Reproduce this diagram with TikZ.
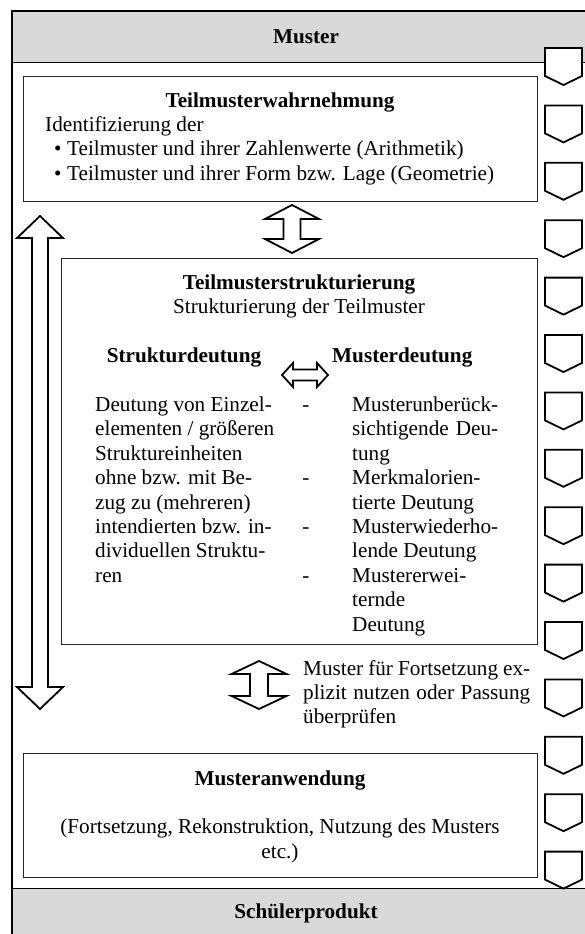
\documentclass[tikz,border=0pt]{standalone}
\usepackage{fontspec}
\setmainfont{Liberation Serif}

\begin{document}
\begin{tikzpicture}[x=1pt, y=-1pt]
  \tikzset{
    txt/.style={inner sep=0pt, font=\fontsize{21.2}{24.4}\selectfont},
    head/.style={txt, font=\fontsize{21.2}{24.4}\selectfont\bfseries},
    box/.style={
      rectangle,
      draw=black!85,
      line width=1pt, % thin frame of the three phases
      fill=white,
      inner sep=0pt,
    },
    band/.style={rectangle, draw=black, line width=0.8pt, fill=black!15, inner sep=0pt, font=\fontsize{21.2}{24.4}\selectfont\bfseries},
    blockarrow/.style={draw=black, line width=1.8pt, fill=white, line join=miter},
    chevron/.style={draw=black, line width=1.8pt, fill=white},
  }
  \useasboundingbox (0,0) rectangle (585,934);
  \clip (0,0) rectangle (585,934);

  % grey bands
  \node[band, minimum width=588pt, minimum height=51pt] (muster) at (306,36.5) {Muster};
  \node[band, minimum width=588pt, minimum height=50pt] (produkt) at (306,913) {Schülerprodukt};
  \draw[line width=2pt] (12,960) -- (12,11) -- (600,11);

  % phases
  \node[box, minimum width=514pt, minimum height=125pt] (wahr) at (280,138.5) {};
  \node[box, minimum width=476pt, minimum height=386pt] (struk) at (299,451) {};
  \node[box, minimum width=514pt, minimum height=124pt] (anw) at (280,815) {};

  \node[head, anchor=base] (wahrtitel) at (280,107) {Teilmusterwahrnehmung};
  \node[txt, anchor=base west] (ident) at (45,131.4) {Identifizierung der};
  \node[txt, anchor=base west] (dot1) at (54,155.8) {\textbullet};
  \node[txt, anchor=base west] (item1) at (67,155.8) {Teilmuster und ihrer Zahlenwerte (Arithmetik)};
  \node[txt, anchor=base west] (dot2) at (54,180.2) {\textbullet};
  \node[txt, anchor=base west] (item2) at (67,180.2) {Teilmuster und ihrer Form bzw. Lage (Geometrie)};

  \node[head, anchor=base] (struktitel) at (299,289.4) {Teilmusterstrukturierung};
  \node[txt, anchor=base] (struksub) at (299,313.8) {Strukturierung der Teilmuster};
  \node[head, anchor=base] (sdeut) at (184,362.6) {Strukturdeutung};
  \node[head, anchor=base west] (mdeut) at (332,362.6) {Musterdeutung};
  \foreach \t [count=\i from 0] in {Deutung von Einzel-, elementen / größeren, Struktureinheiten,
      ohne bzw. mit Be-, zug zu (mehreren), intendierten bzw. in-, dividuellen Struktu-, ren}
    \node[txt, anchor=base west] (links\i) at (95,411.4+24.4*\i) {\t};
  \foreach \t [count=\i from 0] in {Musterunberück-, {\makebox[146pt][s]{sichtigende Deu-}}, tung,
      Merkmalorien-, tierte Deutung, Musterwiederho-, lende Deutung, Mustererwei-, ternde, Deutung}
    \node[txt, anchor=base west] (rechts\i) at (352,411.4+24.4*\i) {\t};
  \foreach \i in {0,3,5,7}
    \node[txt, anchor=base] (strich\i) at (306,411.4+24.4*\i) {-};

  % base of a node with several lines = its last line
  \node[txt, anchor=base west, align=left] (fort) at (303,723.8)
    {\makebox[227pt][s]{Muster für Fortsetzung ex-}\\
     \makebox[227pt][s]{plizit nutzen oder Passung}\\
     überprüfen};

  \node[head, anchor=base] (anwtitel) at (280,785) {Musteranwendung};
  \node[txt, anchor=base, align=center] (anwtext) at (280,858.2)
    {(Fortsetzung, Rekonstruktion, Nutzung des Musters\\ etc.)};

  % block arrows
  \coordinate (p1) at (292,229);
  \coordinate (p2) at (305,375);
  \coordinate (p3) at (259,685);
  \coordinate (p4) at (40,462.5);
  \draw[blockarrow] (p1) ++(0,-24) -- ++(27,14) -- ++(-18.5,0) -- ++(0,20) -- ++(18.5,0) -- ++(-27,14)
    -- ++(-27,-14) -- ++(18.5,0) -- ++(0,-20) -- ++(-18.5,0) -- cycle;
  \draw[blockarrow] (p2) ++(-23,0) -- ++(11,-12) -- ++(0,6.5) -- ++(24,0) -- ++(0,-6.5) -- ++(11,12)
    -- ++(-11,12) -- ++(0,-6.5) -- ++(-24,0) -- ++(0,6.5) -- cycle;
  \draw[blockarrow] (p3) ++(0,-24) -- ++(27.5,13) -- ++(-18.5,0) -- ++(0,22) -- ++(18.5,0) -- ++(-27.5,13)
    -- ++(-27.5,-13) -- ++(18.5,0) -- ++(0,-22) -- ++(-18.5,0) -- cycle;
  \draw[blockarrow] (p4) ++(0,-246.5) -- ++(23,22) -- ++(-15,0) -- ++(0,449) -- ++(15,0) -- ++(-23,22)
    -- ++(-23,-22) -- ++(15,0) -- ++(0,-449) -- ++(-15,0) -- cycle;

  % chevrons on the right
  \foreach \k in {0,...,14}
    \draw[chevron] (545,48+57.4*\k) -- ++(37,0) -- ++(0,28) -- ++(-18.5,9) -- ++(-18.5,-9) -- cycle;
\end{tikzpicture}
\end{document}
